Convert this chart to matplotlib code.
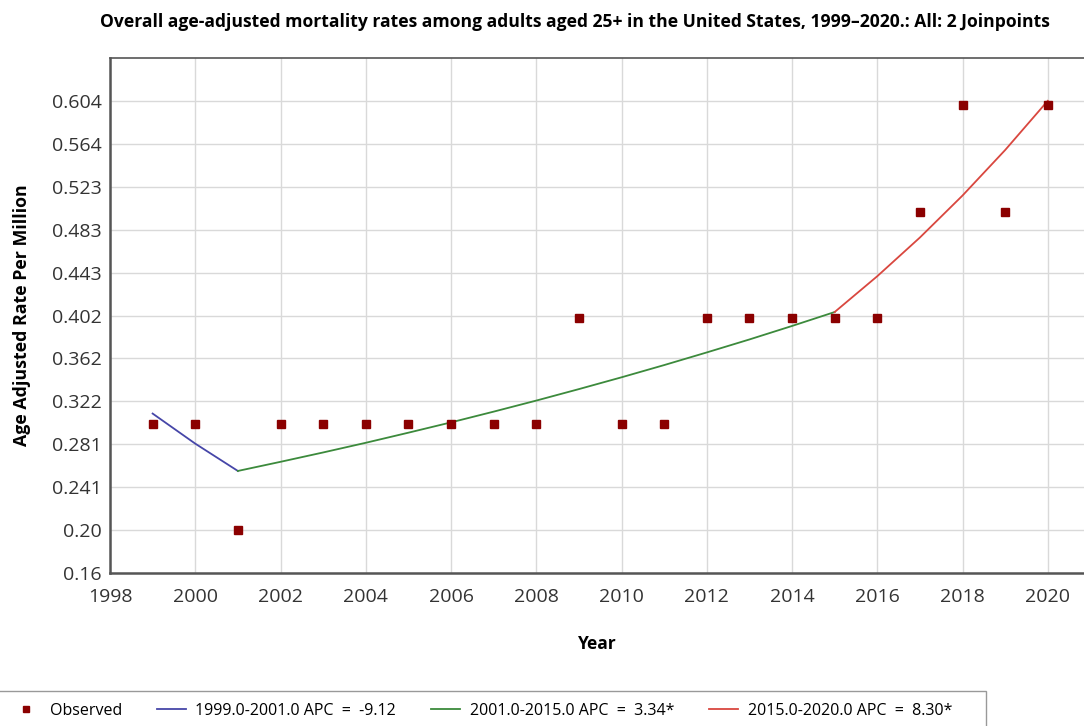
import numpy as np
import matplotlib
matplotlib.use("Agg")
from matplotlib import pyplot as plt
from matplotlib.patches import Rectangle
from matplotlib.lines import Line2D

plt.rcParams['font.family'] = ['Open Sans', 'DejaVu Sans']

# observed rates
years = list(range(1999, 2021))
observed = [0.3, 0.3, 0.2, 0.3, 0.3, 0.3, 0.3, 0.3, 0.3, 0.3, 0.4,
            0.3, 0.3, 0.4, 0.4, 0.4, 0.4, 0.4, 0.5, 0.6, 0.5, 0.6]

# joinpoint segments (fitted values)
seg1_years = [1999, 2000, 2001]
seg1_fit = [0.310, 0.2817, 0.2560]
seg2_years = list(range(2001, 2016))
seg2_fit = [0.2560, 0.2646, 0.2734, 0.2825, 0.2920, 0.3017, 0.3118, 0.3222,
            0.3330, 0.3441, 0.3556, 0.3675, 0.3797, 0.3924, 0.4055]
seg3_years = list(range(2015, 2021))
seg3_fit = [0.4055, 0.4392, 0.4756, 0.5151, 0.5579, 0.6042]

seg_labels = ['1999.0-2001.0 APC  =  -9.12',
              '2001.0-2015.0 APC  =  3.34*',
              '2015.0-2020.0 APC  =  8.30*']

ytick_labels = ['0.16', '0.20', '0.241', '0.281', '0.322', '0.362',
                '0.402', '0.443', '0.483', '0.523', '0.564', '0.604']
xtick_vals = list(range(1998, 2021, 2))

W, H = 1084, 726
fig = plt.figure(figsize=(W / 100, H / 100), dpi=100)
ax = fig.add_axes([110 / W, 1 - 573 / H, (W - 110) / W, (573 - 58) / H])

obs_c = '#8b0000'
c1, c2, c3 = '#4646a8', '#3c8a3c', '#d9473f'

ax.plot(seg1_years, seg1_fit, color=c1, lw=1.3, zorder=3)
ax.plot(seg2_years, seg2_fit, color=c2, lw=1.3, zorder=3)
ax.plot(seg3_years, seg3_fit, color=c3, lw=1.3, zorder=3)
ax.plot(years, observed, ls='none', marker='s', ms=5.5, color=obs_c, zorder=4)

ax.set_xlim(1998, 2020.85)
ax.set_ylim(0.16, 0.6445)
ax.set_yticks(np.linspace(0.16, 0.604, len(ytick_labels)))
ax.set_yticklabels(ytick_labels)
ax.set_xticks(xtick_vals)
ax.grid(True, color='#d9d9d9', lw=1)
ax.set_axisbelow(True)
ax.tick_params(labelsize=14, colors='#333333', length=0, pad=6)
ax.tick_params(axis='x', pad=11)

for s in ['left', 'bottom', 'top']:
    ax.spines[s].set_color('#555555')
ax.spines['left'].set_linewidth(1.8)
ax.spines['bottom'].set_linewidth(1.8)
ax.spines['top'].set_linewidth(1.2)
ax.spines['right'].set_visible(False)

ax.set_xlabel('Year', fontsize=12.5, fontweight='bold', va='center')
ax.xaxis.set_label_coords(0.5, (573 - 644) / 515)
ax.set_ylabel('Age Adjusted Rate Per Million', fontsize=12.8, fontweight='bold', va='center')
ax.yaxis.set_label_coords((22 - 110) / 974, 0.5)

fig.text(575 / W, 1 - 22 / H,
         'Overall age-adjusted mortality rates among adults aged 25+ in the United States, 1999\u20132020.: All: 2 Joinpoints',
         ha='center', va='center', fontsize=12.6, fontweight='bold')

# legend box along the bottom edge
fig.patches.append(Rectangle((-0.01, -0.05), 986 / W + 0.01, 0.05 + 1 - 691 / H,
                             transform=fig.transFigure, fill=False,
                             edgecolor='#999999', lw=1))
handles = [Line2D([], [], ls='none', marker='s', ms=4, color=obs_c),
           Line2D([], [], color=c1, lw=1.3),
           Line2D([], [], color=c2, lw=1.3),
           Line2D([], [], color=c3, lw=1.3)]
fig.legend(handles, ['Observed'] + seg_labels, ncol=4, frameon=False,
           loc='center left', bbox_to_anchor=(-3 / W, 1 - 711 / H),
           fontsize=11.5, handlelength=1.8, columnspacing=2.2, handletextpad=0.6)

fig.savefig('out.png', dpi=100)
